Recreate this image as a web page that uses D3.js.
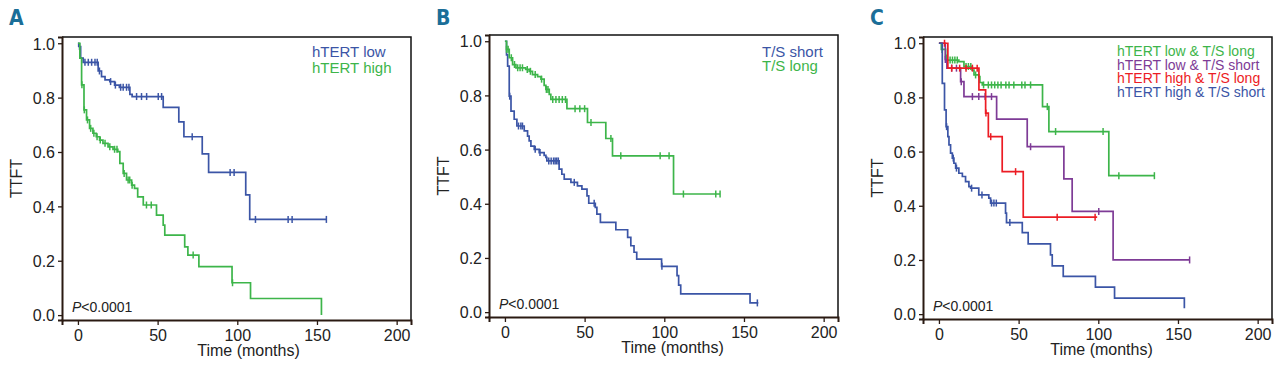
<!DOCTYPE html>
<html>
<head>
<meta charset="utf-8">
<script src="https://cdn.jsdelivr.net/npm/d3@7"></script>
<style>
  body { margin: 0; background: #fff; }
  svg { display: block; font-family: "Liberation Sans", Arial, sans-serif; }
</style>
</head>
<body>
<script>
// ---- data (time in months, survival fraction) ----
var aLow = [[0,1],[0.5,0.988],[1.7,0.945],[3.3,0.93],[12.7,0.898],[14.8,0.877],[17,0.865],[20,0.859],[23,0.846],[26,0.838],[32.6,0.812],[34,0.804],[53.5,0.764],[63.3,0.711],[66.5,0.656],[78,0.593],[82,0.525],[105.3,0.442],[107.8,0.352],[156,0.352]];
var aLowCens = [1,4.4,6.5,8.6,10.7,12.1,13.5,20.5,23.5,26.8,28.4,30.5,32,36.8,39.9,43.1,50.4,52.5,71.7,95.5,98,111.4,131.9,134.4,155.9];

var aHigh = [[0,1],[1.2,0.945],[2.3,0.847],[3.8,0.755],[5.4,0.718],[7.3,0.687],[9.4,0.669],[11.5,0.656],[13.6,0.644],[15.7,0.632],[18.9,0.619],[22,0.61],[25,0.601],[26.3,0.558],[28.4,0.521],[30.5,0.497],[33.7,0.478],[35.5,0.466],[37.5,0.435],[41,0.405],[49.3,0.368],[53.5,0.331],[54.5,0.294],[67,0.251],[69,0.221],[75.9,0.178],[96.7,0.119],[108.3,0.061],[152.8,0]];
var aHighCens = [2.5,4,6,8,10,12,14,17,20,23,24.5,29,31.5,32.5,34,43,46,72.3,97];

var bShort = [[0,1],[1,0.95],[1.7,0.908],[2.7,0.797],[3.8,0.742],[5.8,0.712],[7.5,0.687],[12.1,0.669],[14.2,0.65],[15.2,0.632],[16.3,0.613],[18.4,0.601],[21.5,0.589],[24.6,0.579],[25.7,0.571],[26.3,0.558],[34,0.528],[35.7,0.509],[37.2,0.491],[41.4,0.479],[45.5,0.466],[48.3,0.454],[51.5,0.429],[52.6,0.402],[56.7,0.387],[57.7,0.362],[59.9,0.331],[69.6,0.304],[77,0.276],[79,0.245],[81,0.221],[82.7,0.196],[98.3,0.169],[108,0.135],[109,0.1],[110.3,0.067],[153.8,0.034],[159,0.034]];
var bShortCens = [3,8.5,10,11,19,22,27.5,29,30.5,31.5,32.5,33.5,43.5,56,98.5,158.4];

var bLong = [[0,1],[1,0.97],[2.7,0.939],[4.8,0.914],[6.9,0.902],[13,0.896],[15.2,0.889],[17.3,0.877],[20.5,0.869],[22.6,0.86],[24.6,0.837],[25.7,0.822],[27.8,0.804],[28.8,0.785],[38.9,0.751],[51.8,0.70],[63.3,0.641],[67.5,0.577],[105.8,0.436],[135,0.436]];
var bLongCens = [1,2,4,6,8,9.5,11,14,16,19,23,26,27,30,32,34,36,38,44,47,50,54,66.5,72.7,97.4,103,112,132.3,135];

var cLowLong = [[0,1],[1.5,0.977],[4.2,0.955],[4.8,0.938],[12.5,0.932],[15.7,0.914],[20.9,0.901],[22,0.883],[25,0.877],[25.7,0.855],[27.2,0.846],[65,0.766],[69,0.674],[106.6,0.511],[135.2,0.511]];
var cLowLongCens = [2,7,8.5,10,11.5,17,18.5,20,23,28,31,33,35,37,39,42,44,47,52,54,57.5,68,73.2,103,112.9,135.2];

var cLowShort = [[0,1],[4,0.94],[5,0.908],[13.6,0.858],[15.7,0.803],[36.2,0.72],[55.4,0.618],[78.4,0.499],[83.6,0.379],[109.3,0.2],[157.3,0.2]];
var cLowShortCens = [4,8,11,14,21,25,29,33,57.5,100.3,157.3];

var cHighLong = [[0,1],[5.6,0.908],[25.1,0.828],[29.3,0.742],[31,0.655],[39.7,0.526],[52.9,0.358],[99.3,0.358]];
var cHighLongCens = [3.5,8,13,17,21,24,29.5,32.5,48.1,74.2,98];

var cHighShort = [[0,1],[2.1,0.852],[3.5,0.754],[4.5,0.692],[5.6,0.655],[6.3,0.625],[7.3,0.594],[8.4,0.576],[9.4,0.557],[10.5,0.539],[12.5,0.52],[14.7,0.508],[16.7,0.489],[18.8,0.471],[19.9,0.465],[25,0.44],[31.3,0.428],[32.4,0.41],[41.8,0.373],[42.4,0.338],[52.3,0.301],[56,0.259],[70,0.219],[71.1,0.178],[78,0.139],[98.2,0.1],[110.2,0.059],[154,0.022]];
var cHighShortCens = [4.8,9,11,20.5,27,33,34.5,36,44.5];

var xTicks = [0, 50, 100, 150, 200];
var yTicks = [0, 0.2, 0.4, 0.6, 0.8, 1.0];
var pText = "<0.0001";

var blue = "#3b55a6", green = "#3db54a", red = "#ec1c24", purple = "#7e3b96";

var panels = [
  { letter: "A", l: 62, t: 37, r: 411, b: 320, legX: 250, legY: 57, legStep: 15.5, legSize: 15, labShift: 12,
    series: [
      { name: "hTERT low", pts: aLow, cens: aLowCens, color: blue },
      { name: "hTERT high", pts: aHigh, cens: aHighCens, color: green } ] },
  { letter: "B", l: 489, t: 35, r: 838, b: 317, legX: 273, legY: 56.5, legStep: 14.5, legSize: 15, labShift: 9,
    series: [
      { name: "T/S short", pts: bShort, cens: bShortCens, color: blue },
      { name: "T/S long", pts: bLong, cens: bLongCens, color: green } ] },
  { letter: "C", l: 923, t: 37, r: 1272, b: 319, legX: 194, legY: 56, legStep: 13.6, legSize: 14, labShift: 4,
    series: [
      { name: "hTERT low & T/S long", pts: cLowLong, cens: cLowLongCens, color: green },
      { name: "hTERT low & T/S short", pts: cLowShort, cens: cLowShortCens, color: purple },
      { name: "hTERT high & T/S long", pts: cHighLong, cens: cHighLongCens, color: red },
      { name: "hTERT high & T/S short", pts: cHighShort, cens: cHighShortCens, color: blue } ] }
];

var svg = d3.select("body").append("svg")
  .attr("width", 1280).attr("height", 372);

svg.append("rect").attr("width", 1280).attr("height", 372).attr("fill", "#fff");

function survAt(pts, t) {
  var s = pts[0][1];
  for (var i = 0; i < pts.length; i++) {
    if (pts[i][0] <= t) s = pts[i][1];
  }
  return s;
}

panels.forEach(function(p) {
  var x = d3.scaleLinear().domain([-10, 209]).range([p.l, p.r]);
  var y = d3.scaleLinear().domain([-0.018, 1.023]).range([p.b, p.t]);
  var g = svg.append("g");

  // panel letter
  svg.append("text")
    .attr("x", p.l - 53).attr("y", 25)
    .style("font-family", "'Liberation Sans Narrow', 'DejaVu Sans Condensed', sans-serif")
    .style("font-weight", "bold").style("font-size", "21px")
    .attr("fill", "#1b6e98")
    .text(p.letter);

  // frame: top/right thin black, left/bottom axes
  g.append("path")
    .attr("d", "M" + p.l + "," + p.t + "H" + p.r + "V" + p.b)
    .attr("fill", "none").attr("stroke", "#111").attr("stroke-width", 1.5);

  var yAxis = d3.axisLeft(y).tickValues(yTicks).tickFormat(d3.format(".1f"))
    .tickSize(4).tickPadding(3);
  var yg = g.append("g").attr("transform", "translate(" + p.l + ",0)").call(yAxis);

  var xAxis = d3.axisBottom(x).tickValues(xTicks).tickSize(5).tickPadding(5);
  var xg = g.append("g").attr("transform", "translate(0," + p.b + ")").call(xAxis);

  [yg, xg].forEach(function(ax) {
    ax.select(".domain").attr("stroke", "#2a1a12").attr("stroke-width", 2);
    ax.selectAll(".tick line").attr("stroke", "#2a1a12").attr("stroke-width", 1.3);
    ax.selectAll(".tick text")
      .attr("fill", "#222")
      .style("font-family", "'Liberation Sans', Arial, sans-serif")
      .style("font-size", "16px");
  });
  yg.selectAll(".tick text").attr("dy", "0.36em");

  // axis titles
  g.append("text")
    .attr("transform", "translate(" + (p.l - 40) + "," + ((p.t + p.b) / 2) + ") rotate(-90)")
    .attr("text-anchor", "middle")
    .style("font-size", "16px").attr("fill", "#222")
    .text("TTFT");

  g.append("text")
    .attr("x", (p.l + p.r) / 2 + p.labShift).attr("y", p.b + 36)
    .attr("text-anchor", "middle")
    .style("font-size", "16px").attr("fill", "#222")
    .text("Time (months)");

  // p value
  var pt = g.append("text")
    .attr("x", p.l + 10).attr("y", p.b - 8.5)
    .style("font-size", "14px").attr("fill", "#222");
  pt.append("tspan").style("font-style", "italic").text("P");
  pt.append("tspan").text(pText);

  // curves
  var line = d3.line()
    .x(function(d) { return x(d[0]); })
    .y(function(d) { return y(d[1]); })
    .curve(d3.curveStepAfter);

  p.series.forEach(function(s, i) {
    g.append("path")
      .datum(s.pts)
      .attr("d", line)
      .attr("fill", "none")
      .attr("stroke", s.color)
      .attr("stroke-width", 1.7);

    g.selectAll(".cens-" + i)
      .data(s.cens)
      .enter()
      .append("line")
      .attr("class", "cens-" + i)
      .attr("x1", function(d) { return x(d); })
      .attr("x2", function(d) { return x(d); })
      .attr("y1", function(d) { return y(survAt(s.pts, d)) - 3.5; })
      .attr("y2", function(d) { return y(survAt(s.pts, d)) + 3.5; })
      .attr("stroke", s.color)
      .attr("stroke-width", 1.5);

    g.append("text")
      .attr("x", p.l + p.legX)
      .attr("y", p.legY + i * p.legStep)
      .style("font-size", p.legSize + "px")
      .attr("fill", s.color)
      .text(s.name);
  });
});
</script>
</body>
</html>
